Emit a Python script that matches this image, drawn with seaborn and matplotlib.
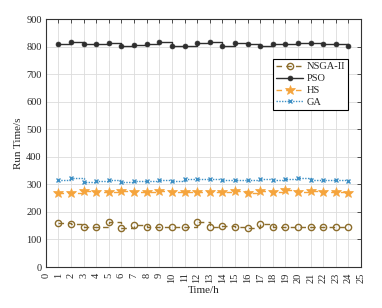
import numpy as np
import pandas as pd
import matplotlib
matplotlib.use("Agg")
import matplotlib.pyplot as plt
import seaborn as sns

# Dữ liệu
hours = list(range(1, 25))
nsga2 = [161, 156, 145, 145, 162, 141, 152, 146, 146, 146, 145, 162,
         147, 148, 147, 143, 156, 145, 146, 145, 147, 147, 145, 147]
pso = [808, 817, 808, 810, 813, 803, 806, 808, 817, 803, 803, 813,
       817, 802, 815, 808, 804, 810, 810, 812, 815, 810, 810, 804]
hs = [268, 270, 275, 272, 271, 275, 271, 274, 275, 271, 272, 274,
      271, 272, 277, 270, 275, 272, 278, 272, 275, 271, 274, 270]
ga = [315, 323, 308, 312, 317, 308, 312, 312, 317, 311, 319, 319,
      319, 315, 317, 315, 319, 315, 318, 323, 315, 315, 315, 312]

df = pd.DataFrame({"hour": hours, "NSGA-II": nsga2, "PSO": pso, "HS": hs, "GA": ga})

sns.set_style("whitegrid")
plt.rcParams["font.family"] = ["Liberation Serif", "DejaVu Serif"]

fig = plt.figure(figsize=(3.82, 3.08), dpi=100)
ax = fig.add_axes([0.120, 0.133, 0.825, 0.805])

# Kiểu đường cho từng thuật toán
styles = {
    "NSGA-II": dict(color="#8c6d2c", marker="o", markersize=4.5, markerfacecolor="none",
                    markeredgewidth=1.0, dashes=(4, 3)),
    "PSO": dict(color="#2e2e2e", marker="o", markersize=3.5, markeredgewidth=0.5,
                dashes=None),
    "HS": dict(color="#f5a43c", marker="*", markersize=7, markeredgewidth=0.5,
               dashes=(4, 3)),
    "GA": dict(color="#3d8fc4", marker="x", markersize=3.5, markeredgewidth=1.0,
               dashes=(1, 1)),
}

for name, st in styles.items():
    st = dict(st)
    dashes = st.pop("dashes")
    sns.lineplot(data=df, x="hour", y=name, ax=ax, label=name,
                 drawstyle="steps-post", linewidth=1.0,
                 markeredgecolor=st["color"], **st)
    l = ax.get_lines()[-1]
    if dashes is not None:
        l.set_dashes(dashes)
    else:
        l.set_linestyle("-")

ax.set_xlim(0, 25)
ax.set_ylim(0, 900)
ax.set_xticks(range(0, 26))
ax.set_yticks(range(0, 901, 100))
ax.tick_params(direction="in", length=3, width=0.6, labelsize=7.5, top=True, right=True,
               color="#333333")
ax.tick_params(axis="x", labelrotation=90, pad=4)
ax.tick_params(axis="y", pad=3)
ax.grid(True, color="#dcdcdc", linewidth=0.6)
for s in ax.spines.values():
    s.set_color("#333333")
    s.set_linewidth(0.8)

ax.set_xlabel("Time/h", fontsize=8, labelpad=2)
ax.set_ylabel("Run Time/s", fontsize=8, labelpad=2)

leg = ax.legend(loc="upper right", bbox_to_anchor=(0.975, 0.86), fontsize=7.5,
                frameon=True, fancybox=False, edgecolor="black", framealpha=1,
                handlelength=2.6, borderpad=0.3, labelspacing=0.25, handletextpad=0.3)
leg.get_frame().set_linewidth(0.8)

fig.savefig("out.png", dpi=100)
